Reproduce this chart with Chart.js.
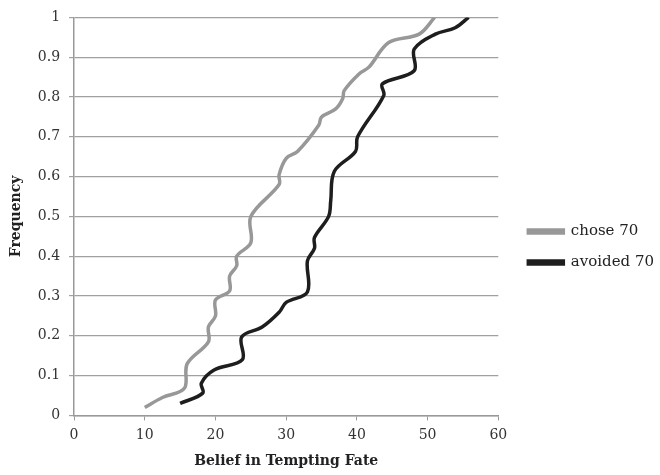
<!DOCTYPE html>
<html>
<head>
<meta charset="utf-8">
<script src="https://cdn.jsdelivr.net/npm/chart.js@4"></script>
<style>
  html, body { margin: 0; padding: 0; background: #fff; }
  #wrap { width: 660px; height: 475px; }
</style>
</head>
<body>
<div id="wrap"><canvas id="myChart" width="660" height="475"></canvas></div>
<script>
// values
const seriesNames = ['chose 70', 'avoided 70'];
const choseX = [10, 12.5, 15.6, 16, 19, 19, 20, 20, 22, 22, 23, 23, 25, 25, 29, 29, 30, 31.6, 34.6, 35, 37, 38, 38.2, 40.3, 41.7, 44.5, 48.8, 51];
const choseY = [0.02, 0.045, 0.068, 0.13, 0.185, 0.222, 0.25, 0.29, 0.313, 0.35, 0.376, 0.40, 0.434, 0.50, 0.58, 0.605, 0.646, 0.663, 0.729, 0.75, 0.77, 0.796, 0.816, 0.858, 0.875, 0.937, 0.958, 1.0];
const avoidedX = [15, 18.2, 18, 19.8, 23.8, 23.7, 26.6, 29, 30, 33, 33, 34, 34, 36, 36.3, 36.8, 39.8, 40.1, 43.8, 43.6, 48.1, 48.1, 51.1, 53.9, 55.8];
const avoidedY = [0.03, 0.056, 0.081, 0.114, 0.14, 0.197, 0.222, 0.259, 0.284, 0.31, 0.388, 0.42, 0.447, 0.50, 0.54, 0.613, 0.663, 0.70, 0.804, 0.833, 0.866, 0.92, 0.958, 0.974, 1.0];
const xTicks = [0, 10, 20, 30, 40, 50, 60];
const yTicks = [0, 0.1, 0.2, 0.3, 0.4, 0.5, 0.6, 0.7, 0.8, 0.9, 1];

function toPoints(xs, ys) {
  return xs.map((x, i) => ({ x: x, y: ys[i] }));
}

const ctx = document.getElementById('myChart');
const serif = "'DejaVu Serif', 'Liberation Serif', serif";

// nudge legend a little right/down, like the original
const legendShift = {
  id: 'legendShift',
  afterLayout(chart) {
    const lg = chart.legend;
    if (!lg) return;
    lg.left += 14; lg.right += 14;
    lg.top += 6; lg.bottom += 6;
  }
};

new Chart(ctx, {
  type: 'scatter',
  data: {
    datasets: [{
      label: seriesNames[0],
      data: toPoints(choseX, choseY),
      showLine: true,
      borderColor: 'rgb(152,152,152)',
      backgroundColor: 'rgb(152,152,152)',
      borderWidth: 3.5,
      pointRadius: 0,
      tension: 0.35
    }, {
      label: seriesNames[1],
      data: toPoints(avoidedX, avoidedY),
      showLine: true,
      borderColor: 'rgb(30,30,30)',
      backgroundColor: 'rgb(30,30,30)',
      borderWidth: 3.5,
      pointRadius: 0,
      tension: 0.35
    }]
  },
  plugins: [legendShift],
  options: {
    responsive: false,
    animation: false,
    layout: { padding: { top: 8, right: 10, left: 4, bottom: 1 } },
    plugins: {
      tooltip: { enabled: false },
      legend: {
        position: 'right',
        labels: {
          boxWidth: 35,
          boxHeight: 3,
          padding: 16,
          color: '#222',
          font: { family: serif, size: 15 }
        }
      }
    },
    scales: {
      x: {
        type: 'linear',
        min: xTicks[0],
        max: xTicks[xTicks.length - 1],
        afterBuildTicks: axis => { axis.ticks = xTicks.map(v => ({ value: v })); },
        grid: { display: true, drawOnChartArea: false, drawTicks: true, tickLength: 5, color: '#999' },
        border: { color: '#999', width: 1.5 },
        ticks: { color: '#333', font: { family: serif, size: 14 }, padding: 7 },
        title: { display: true, text: 'Belief in Tempting Fate', color: '#222', font: { family: serif, size: 14, weight: 'bold' }, padding: { top: 2 } }
      },
      y: {
        type: 'linear',
        min: yTicks[0],
        max: yTicks[yTicks.length - 1],
        afterBuildTicks: axis => { axis.ticks = yTicks.map(v => ({ value: v })); },
        grid: { color: '#a0a0a0', lineWidth: 1.2, tickLength: 5 },
        border: { color: '#999', width: 1.5 },
        ticks: { color: '#333', font: { family: serif, size: 14 }, padding: 9,
          callback: v => String(Math.round(v * 10) / 10) },
        title: { display: true, text: 'Frequency', color: '#222', font: { family: serif, size: 14, weight: 'bold' }, padding: { bottom: 4 } }
      }
    }
  }
});
</script>
</body>
</html>
